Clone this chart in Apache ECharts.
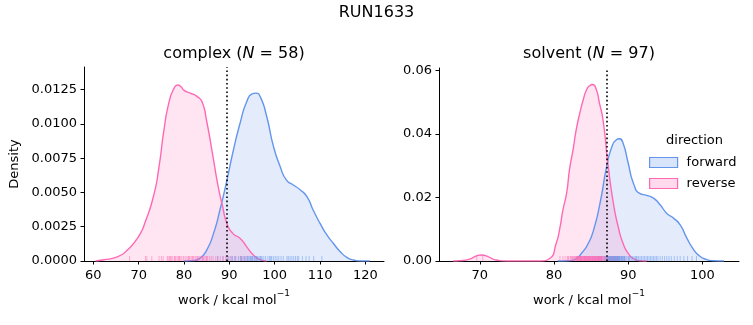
<!DOCTYPE html>
<html>
<head>
<meta charset="utf-8">
<script src="https://cdn.jsdelivr.net/npm/echarts@6/dist/echarts.min.js"></script>
<style>html,body{margin:0;padding:0;background:#fff}#c{width:753px;height:325px}</style>
</head>
<body>
<div id="c"></div>
<script>
// ---------- data ----------
const complexForwardKde = [[80,0],[82.0,0.00003],[83.5,0.0002],[85.0,0.0008],[86.5,0.002],[87.9,0.0037],[89.4,0.0058],[90.9,0.0081],[92.4,0.0101],[93.8,0.0116],[95.0,0.0122],[95.9,0.01225],[96.8,0.0120],[98.2,0.0106],[99.7,0.0084],[101.2,0.0069],[102.6,0.0059],[104.1,0.00555],[105.6,0.0052],[107.1,0.0047],[108.5,0.0037],[110.0,0.00275],[111.5,0.0019],[112.9,0.0013],[114.4,0.0007],[115.9,0.00027],[117.4,0.00007],[119.0,0],[121.0,0]];
const complexReverseKde = [[60.5,0],[62.0,0.00007],[65.3,0.0003],[67.5,0.0008],[70.0,0.0018],[71.5,0.0029],[73.4,0.0049],[74.5,0.0069],[75.6,0.0096],[76.7,0.0116],[77.8,0.0126],[78.6,0.01285],[79.4,0.0127],[80.0,0.01245],[81.5,0.01224],[82.9,0.0120],[84.0,0.0116],[85.0,0.0102],[86.3,0.0078],[87.5,0.0055],[88.5,0.0040],[89.5,0.0027],[90.8,0.0020],[92.4,0.00165],[93.8,0.00105],[95.3,0.00044],[96.8,0.0001],[98.2,0]];
const solventForwardKde = [[80.5,0],[82.0,0.0001],[82.6,0.0003],[83.9,0.0030],[84.6,0.0055],[85.3,0.0095],[86.2,0.0182],[87.1,0.0298],[87.8,0.0360],[88.4,0.0382],[88.8,0.0385],[89.3,0.0372],[90.0,0.0308],[90.7,0.0245],[91.6,0.0212],[92.5,0.0207],[93.4,0.0198],[94.3,0.0177],[95.2,0.0150],[96.1,0.0135],[97.0,0.0114],[97.8,0.0077],[98.7,0.0040],[99.6,0.0016],[100.5,0.0005],[101.4,0.0001],[102.9,0]];
const solventReverseKde = [[66.4,0],[67.3,0.0001],[68.65,0.0006],[69.55,0.0016],[70.2,0.0019],[71.1,0.0014],[72.2,0.0003],[73.6,0],[78.1,0],[79.4,0.0008],[80.3,0.0056],[80.8,0.0105],[81.2,0.0161],[81.7,0.0214],[82.1,0.0290],[82.6,0.0355],[83.0,0.0415],[83.5,0.0468],[83.9,0.0505],[84.4,0.0540],[84.8,0.0552],[85.2,0.0556],[85.7,0.0540],[86.1,0.0500],[86.6,0.0445],[87.3,0.0300],[88.0,0.0182],[88.65,0.0108],[89.3,0.0056],[90.0,0.0024],[90.9,0.0005],[91.6,0.0001],[92.5,0]];

const complexForwardRug = [87.4,88.6,89.5,89.9,90.3,90.7,91.1,91.4,92.0,92.4,92.7,93.0,93.3,93.6,93.9,94.2,94.5,94.8,95.1,95.4,95.7,96.0,96.3,96.6,96.9,97.2,97.6,98.0,98.5,98.9,99.3,99.7,100.1,100.5,100.9,101.4,101.9,102.7,103.0,103.4,103.8,104.2,104.6,105.0,105.3,106.1,106.9,107.6,108.6,110.4,94.0,95.0,96.1,97.0,95.6,92.6,99.0,94.7];
const complexReverseRug = [68.0,71.5,71.8,72.9,74.5,75.0,75.4,76.3,76.5,76.8,77.0,77.2,77.5,77.9,78.0,78.2,78.5,78.8,79.0,79.1,79.4,79.8,80.0,80.4,80.7,81.0,81.1,81.3,81.6,81.9,82.0,82.2,82.5,82.8,83.0,83.1,83.4,83.7,84.0,84.1,84.3,84.6,84.9,85.0,85.2,85.6,86.0,86.4,87.0,87.5,88.0,88.6,89.2,89.7,90.5,91.4,92.5,93.3];
const solventForwardRug = [83.6,84.3,84.8,85.2,85.5,85.8,86.0,86.2,86.4,86.6,86.8,86.9,87.0,87.1,87.2,87.3,87.4,87.5,87.6,87.7,87.8,87.9,88.0,88.05,88.1,88.2,88.25,88.3,88.4,88.45,88.5,88.6,88.7,88.8,88.9,89.0,89.1,89.2,89.3,89.4,89.5,89.6,89.8,90.0,90.2,90.4,90.6,90.8,91.0,91.2,91.4,91.6,91.8,92.0,92.2,92.4,92.6,92.8,93.0,93.2,93.4,93.6,93.8,94.0,94.3,94.6,94.9,95.2,95.5,95.8,96.2,96.6,97.0,97.5,98.0,98.6,99.2,87.05,87.15,87.25,87.35,87.45,87.55,87.65,87.75,87.85,87.95,88.15,88.35,88.55,88.65,88.75,88.85,89.15,89.45,90.1,91.1];
const solventReverseRug = [69.6,70.4,80.8,81.2,81.5,81.8,82.0,82.2,82.4,82.6,82.8,82.9,83.0,83.1,83.2,83.3,83.4,83.5,83.6,83.7,83.8,83.9,84.0,84.05,84.1,84.2,84.25,84.3,84.4,84.45,84.5,84.6,84.65,84.7,84.8,84.85,84.9,85.0,85.05,85.1,85.15,85.2,85.3,85.35,85.4,85.5,85.55,85.6,85.7,85.75,85.8,85.9,86.0,86.1,86.2,86.3,86.4,86.5,86.6,86.8,87.0,87.2,87.5,87.9,88.4,83.05,83.15,83.25,83.35,83.45,83.55,83.65,83.75,83.85,83.95,84.15,84.35,84.55,84.75,84.95,85.25,85.45,85.65,85.85,85.95,86.05,86.15,86.25,86.35,86.45,82.3,82.5,82.7,81.9,86.7,84.12,84.62];

const complexThreshold = 89.5;
const solventThreshold = 87.07;

const complexXTicks = [60,70,80,90,100,110,120];
const solventXTicks = [70,80,90,100];
const complexYTicks = [0,0.0025,0.005,0.0075,0.01,0.0125];
const solventYTicks = [0,0.02,0.04,0.06];

const mainTitle = 'RUN1633';
const panelNames = ['complex', 'solvent'];
const panelN = [58, 97];
const directions = ['forward', 'reverse'];
const xNameMain = 'work / kcal mol';
const xNameSup = '\u22121';
const yName = 'Density';
const legendTitle = 'direction';

// ---------- styling ----------
const FONT = 'DejaVu Sans';
const BLUE = '#6495ED', PINK = '#FF69B4';
const BLUE_F = 'rgba(100,149,237,0.25)', PINK_F = 'rgba(255,105,180,0.25)';

function xAxis(grid, min, max, ticks) {
  return {
    type: 'value', gridIndex: grid, min: min, max: max,
    name: '{a|' + xNameMain + '}{s|' + xNameSup + '}', nameLocation: 'middle', nameGap: 28,
    nameTextStyle: {fontFamily: FONT, fontSize: 13, color: '#000',
      rich: {
        a: {fontFamily: FONT, fontSize: 13, color: '#000', lineHeight: 18, verticalAlign: 'bottom'},
        s: {fontFamily: FONT, fontSize: 9, color: '#000', lineHeight: 9, verticalAlign: 'top'}
      }},
    axisLine: {show: true, onZero: false, lineStyle: {color: '#000', width: 1}},
    axisTick: {show: true, length: 3.5, lineStyle: {color: '#000', width: 1}, customValues: ticks},
    axisLabel: {customValues: ticks, margin: 8, color: '#000', fontFamily: FONT, fontSize: 13},
    splitLine: {show: false}
  };
}
function yAxis(grid, max, ticks, digits, name) {
  return {
    type: 'value', gridIndex: grid, min: 0, max: max,
    name: name || '', nameLocation: 'middle', nameGap: 63,
    nameTextStyle: {fontFamily: FONT, fontSize: 13, color: '#000'},
    axisLine: {show: true, onZero: false, lineStyle: {color: '#000', width: 1}},
    axisTick: {show: true, length: 3.5, lineStyle: {color: '#000', width: 1}, customValues: ticks},
    axisLabel: {customValues: ticks, margin: 7, color: '#000', fontFamily: FONT, fontSize: 13,
      formatter: v => Number(v).toFixed(digits)},
    splitLine: {show: false}
  };
}
function kde(name, data, grid, color, fill) {
  return {
    type: 'line', name: name, xAxisIndex: grid, yAxisIndex: grid, data: data,
    smooth: 0.6, showSymbol: false, symbol: 'none', z: 2,
    lineStyle: {color: color, width: 1.4}, itemStyle: {color: color},
    areaStyle: {color: fill}, silent: true
  };
}
function rug(vals, grid, color, threshold) {
  const s = {
    type: 'scatter', xAxisIndex: grid, yAxisIndex: grid,
    data: vals.map(v => [v, 0]), symbol: 'rect', symbolSize: [1, 5], symbolOffset: [0, -2.5],
    itemStyle: {color: color, opacity: 0.5}, silent: true, z: 3, clip: false
  };
  if (threshold !== undefined) {
    s.markLine = {
      silent: true, symbol: ['none', 'none'], label: {show: false}, z: 5,
      lineStyle: {color: '#000', width: 1.6, type: [1.6, 2.6]},
      data: [{xAxis: threshold}]
    };
  }
  return s;
}

const chart = echarts.init(document.getElementById('c'), null, {renderer: 'canvas'});
chart.setOption({
  animation: false,
  backgroundColor: '#fff',
  grid: [
    {left: 84, top: 67, width: 300, height: 194},
    {left: 439, top: 68, width: 300, height: 193}
  ],
  xAxis: [xAxis(0, 57.95, 124.1, complexXTicks), xAxis(1, 64.5, 104.93, solventXTicks)],
  yAxis: [yAxis(0, 0.01416, complexYTicks, 4, yName), yAxis(1, 0.0608, solventYTicks, 2, '')],
  legend: {
    orient: 'vertical', left: 644, top: 150, itemWidth: 28, itemHeight: 10, itemGap: 6,
    icon: 'rect', selectedMode: false,
    textStyle: {fontFamily: FONT, fontSize: 13, color: '#000', lineHeight: 15, padding: [0, 0, 0, 4]},
    data: [
      {name: directions[0], itemStyle: {color: BLUE_F, borderColor: BLUE, borderWidth: 1.2}},
      {name: directions[1], itemStyle: {color: PINK_F, borderColor: PINK, borderWidth: 1.2}}
    ]
  },
  graphic: [
    {type: 'text', silent: true, style: {x: 376.5, y: 13, text: mainTitle, align: 'center', verticalAlign: 'middle',
      fontFamily: FONT, fontSize: 16, fill: '#000'}},
    {type: 'text', silent: true, style: {x: 234, y: 54, align: 'center', verticalAlign: 'middle',
      text: '{a|' + panelNames[0] + ' (}{b|N}{a| = ' + panelN[0] + ')}',
      rich: {a: {fontFamily: FONT, fontSize: 16, fill: '#000'}, b: {fontFamily: FONT, fontSize: 16, fontStyle: 'italic', fill: '#000'}}}},
    {type: 'text', silent: true, style: {x: 589, y: 54, align: 'center', verticalAlign: 'middle',
      text: '{a|' + panelNames[1] + ' (}{b|N}{a| = ' + panelN[1] + ')}',
      rich: {a: {fontFamily: FONT, fontSize: 16, fill: '#000'}, b: {fontFamily: FONT, fontSize: 16, fontStyle: 'italic', fill: '#000'}}}},
    {type: 'text', silent: true, style: {x: 694.5, y: 141, text: legendTitle, align: 'center', verticalAlign: 'middle',
      fontFamily: FONT, fontSize: 13, fill: '#000'}}
  ],
  series: [
    kde(directions[0], complexForwardKde, 0, BLUE, BLUE_F),
    kde(directions[1], complexReverseKde, 0, PINK, PINK_F),
    kde(directions[0], solventForwardKde, 1, BLUE, BLUE_F),
    kde(directions[1], solventReverseKde, 1, PINK, PINK_F),
    rug(complexForwardRug, 0, BLUE),
    rug(complexReverseRug, 0, PINK, complexThreshold),
    rug(solventForwardRug, 1, BLUE),
    rug(solventReverseRug, 1, PINK, solventThreshold)
  ]
});
</script>
</body>
</html>
